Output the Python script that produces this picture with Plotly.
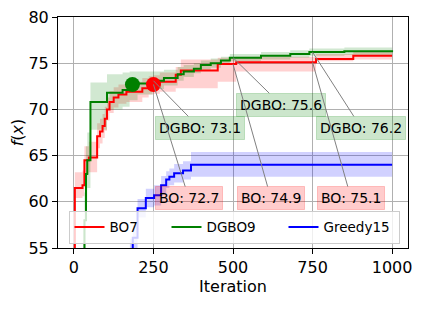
import plotly.graph_objects as go

# ---- data ----
bo_iter = [0, 3, 27, 33, 47, 73, 82, 90, 97, 104, 112, 125, 140, 165, 215, 235, 250, 270, 320, 336, 452, 510, 761, 878, 1000]
bo_mean = [50, 61.5, 61.8, 64.5, 64.8, 67.1, 67.6, 68.2, 69.0, 70.0, 70.8, 71.3, 71.6, 71.9, 72.3, 72.6, 72.7, 73.0, 73.75, 74.2, 74.9, 75.1, 75.45, 75.8, 75.8]
bo_hi = [53, 63.2, 63.4, 66.0, 66.5, 68.5, 69.0, 69.5, 70.3, 71.3, 72.0, 72.4, 72.7, 73.0, 73.4, 73.6, 73.7, 74.0, 74.6, 75.4, 75.6, 75.7, 76.0, 76.2, 76.2]
bo_lo = [47, 60.4, 60.6, 63.0, 63.2, 65.8, 66.3, 66.9, 67.7, 68.8, 69.6, 70.2, 70.6, 70.8, 71.3, 71.6, 71.7, 71.9, 72.3, 72.3, 73.0, 74.1, 75.2, 75.4, 75.4]

dg_iter = [28, 33, 38, 42, 52, 104, 153, 175, 200, 247, 283, 326, 345, 377, 399, 430, 462, 490, 588, 680, 740, 850, 1000]
dg_mean = [50, 58, 63, 64.5, 70.8, 71.8, 72.1, 72.4, 72.8, 73.1, 73.4, 73.8, 74.1, 74.4, 74.8, 75.0, 75.3, 75.6, 75.8, 76.0, 76.2, 76.3, 76.4]
dg_hi = [53, 61, 66, 67.5, 72.9, 73.8, 74.0, 74.1, 74.1, 74.1, 74.3, 74.6, 74.8, 75.0, 75.3, 75.5, 75.7, 76.0, 76.2, 76.4, 76.6, 76.7, 76.8]
dg_lo = [47, 55, 60, 61.5, 67.8, 70.0, 70.3, 71.0, 71.6, 72.2, 72.6, 73.1, 73.5, 73.9, 74.3, 74.5, 74.9, 75.2, 75.4, 75.6, 75.8, 75.9, 76.0]

gr_iter = [170, 176, 185, 200, 226, 252, 274, 290, 300, 315, 343, 368, 1000]
gr_mean = [50, 54.0, 56.1, 59.3, 60.4, 60.7, 61.8, 62.4, 62.7, 63.1, 63.4, 64.0, 64.0]
gr_hi = [53, 56.0, 57.5, 60.3, 61.4, 61.8, 62.8, 63.3, 63.6, 64.1, 64.4, 65.4, 65.4]
gr_lo = [47, 52.0, 54.5, 58.3, 59.4, 59.6, 60.8, 61.5, 61.8, 62.1, 62.4, 62.7, 62.7]

marker_bo = (250, 72.7)
marker_dg = (184, 72.7)

annot_dg = [(250, 73.1, 395, 68.0, "DGBO: 73.1"),
            (500, 75.6, 651, 70.5, "DGBO: 75.6"),
            (750, 76.2, 903, 68.0, "DGBO: 76.2")]
annot_bo = [(250, 72.7, 361, 60.4, "BO: 72.7"),
            (500, 74.9, 619, 60.4, "BO: 74.9"),
            (750, 75.1, 871, 60.4, "BO: 75.1")]

x_ticks = [0, 250, 500, 750, 1000]
y_ticks = [55, 60, 65, 70, 75, 80]

FONT = "DejaVu Sans"
fig = go.Figure()

series = [
    ("BO7", bo_iter, bo_mean, bo_lo, bo_hi, "red", "rgba(255,0,0,0.18)", 52),
    ("DGBO9", dg_iter, dg_mean, dg_lo, dg_hi, "green", "rgba(0,128,0,0.18)", 72),
    ("Greedy15", gr_iter, gr_mean, gr_lo, gr_hi, "blue", "rgba(0,0,255,0.18)", 70),
]
for name, xs, m, lo, hi, col, fcol, lw in series:
    fig.add_trace(go.Scatter(x=xs, y=lo, mode="lines", line=dict(width=0, shape="hv"),
                             showlegend=False, hoverinfo="skip"))
    fig.add_trace(go.Scatter(x=xs, y=hi, mode="lines", line=dict(width=0, shape="hv"),
                             fill="tonexty", fillcolor=fcol, showlegend=False, hoverinfo="skip"))
for name, xs, m, lo, hi, col, fcol, lw in series:
    fig.add_trace(go.Scatter(x=xs, y=m, mode="lines", name=name,
                             line=dict(color=col, width=2, shape="hv"), legendwidth=lw))

fig.add_trace(go.Scatter(x=[marker_dg[0]], y=[marker_dg[1]], mode="markers",
                         marker=dict(color="green", size=15), showlegend=False))
fig.add_trace(go.Scatter(x=[marker_bo[0]], y=[marker_bo[1]], mode="markers",
                         marker=dict(color="red", size=15), showlegend=False))

for lst, bg in ((annot_dg, "rgba(0,128,0,0.2)"), (annot_bo, "rgba(255,0,0,0.2)")):
    for x, y, tx, ty, txt in lst:
        fig.add_annotation(x=x, y=y, ax=tx, ay=ty, xref="x", yref="y", axref="x", ayref="y",
                           text=txt, showarrow=True, arrowhead=0, arrowwidth=1, arrowcolor="#808080",
                           standoff=0, startstandoff=0, bgcolor=bg, bordercolor=bg, borderwidth=1,
                           borderpad=3, font=dict(family=FONT, size=14, color="black"))

axis_common = dict(showline=True, linecolor="black", linewidth=1, mirror=True,
                   ticks="outside", ticklen=5, tickcolor="black", showgrid=True,
                   gridcolor="#b0b0b0", gridwidth=1, zeroline=False, automargin=False,
                   ticklabeloverflow="allow",
                   tickfont=dict(family=FONT, size=16, color="black"))
fig.update_xaxes(range=[-50, 1050], tickvals=x_ticks, ticktext=[str(t) for t in x_ticks],
                 title=dict(text="Iteration", font=dict(family=FONT, size=16, color="black"), standoff=4),
                 **axis_common)
fig.update_yaxes(range=[55, 80], tickvals=y_ticks, ticktext=[str(t) for t in y_ticks],
                 title=dict(text="<i>f</i>(<i>x</i>)", font=dict(family=FONT, size=16, color="black"), standoff=12),
                 **axis_common)

# page body has an 8px default margin; size the figure so the plot lands where intended
fig.update_layout(
    width=414, height=301,
    margin=dict(l=50, r=14, t=9, b=61),
    plot_bgcolor="white", paper_bgcolor="white",
    legend=dict(orientation="h", x=0.03, y=0.018, xanchor="left", yanchor="bottom",
                traceorder="normal",
                bgcolor="rgba(255,255,255,0.8)", bordercolor="#cccccc", borderwidth=1,
                font=dict(family=FONT, size=13.5, color="black"),
                entrywidthmode="pixels"),
    showlegend=True,
)

fig.write_html("out.html")
